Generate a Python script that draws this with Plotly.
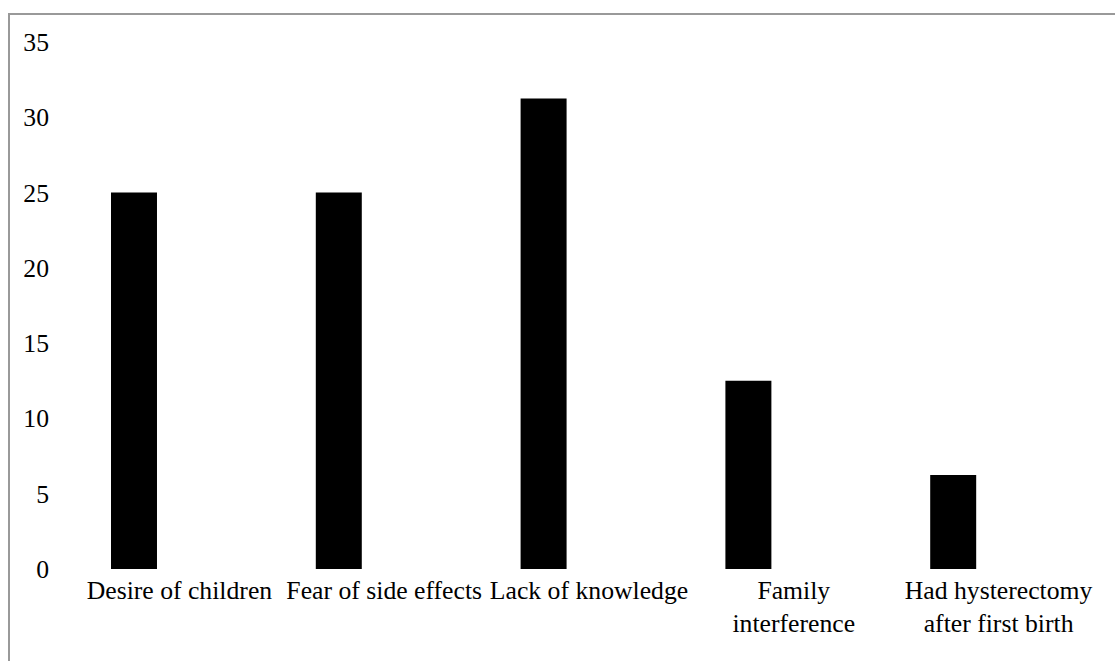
import plotly.graph_objects as go

categories = ["Desire of children", "Fear of side effects", "Lack of knowledge",
              "Family<br>interference", "Had hysterectomy<br>after first birth"]
values = [25, 25, 31.25, 12.5, 6.25]
y_ticks = [0, 5, 10, 15, 20, 25, 30, 35]

FONT = "Liberation Serif, Times New Roman, serif"

fig = go.Figure()
fig.add_trace(go.Bar(
    x=list(range(len(categories))),
    y=values,
    marker=dict(color="black", line=dict(width=0)),
    width=0.2246,
    offset=-0.334,
    hoverinfo="y",
))

L, R, T, B = 77, 14, 42, 92
W, H = 1115, 661
pw, ph = W - L - R, H - T - B

fig.update_layout(
    width=W, height=H,
    margin=dict(l=L, r=R, t=T, b=B),
    paper_bgcolor="white", plot_bgcolor="white",
    showlegend=False,
    font=dict(family=FONT, size=25.7, color="black"),
    xaxis=dict(
        range=[-0.5, 4.5],
        tickmode="array",
        tickvals=list(range(len(categories))),
        ticktext=categories,
        showgrid=False, zeroline=False, showline=False,
        ticks="", ticklabelstandoff=3,
        tickfont=dict(family=FONT, size=25.7, color="black"),
    ),
    yaxis=dict(
        range=[0, 35],
        tickmode="array",
        tickvals=y_ticks,
        showgrid=False, zeroline=False, showline=False,
        ticks="", ticklabelstandoff=27,
        tickfont=dict(family=FONT, size=25.7, color="black"),
    ),
)

# outer gray frame (top and left visible)
x0 = (9 - L) / pw
x1 = (W + 20 - L) / pw
y1 = 1 + (T - 14) / ph
y0 = -(H + 20 - (T + ph)) / ph
fig.add_shape(type="rect", xref="paper", yref="paper",
              x0=x0, x1=x1, y0=y0, y1=y1,
              line=dict(color="#999999", width=2), layer="below")

fig.write_html("out.html")
